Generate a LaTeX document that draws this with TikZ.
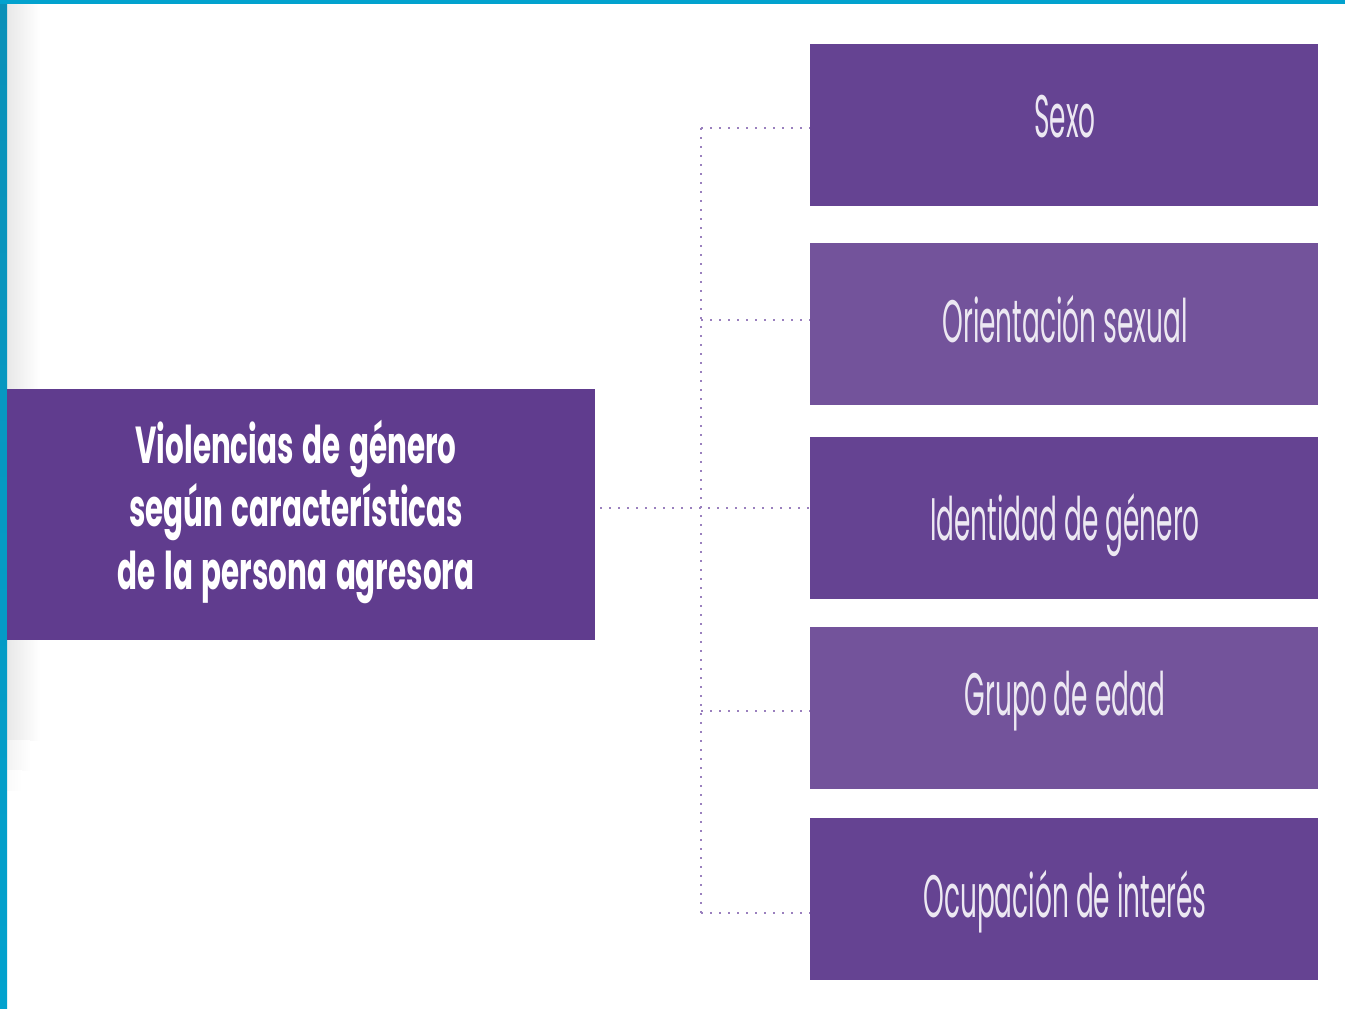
\documentclass[tikz,border=0pt]{standalone}
\usepackage{fontspec}
\newfontfamily\titlefont[FakeStretch=0.565,WordSpace=1.4]{Poppins}
\newfontfamily\boxfont[FakeStretch=0.44]{Poppins}
\definecolor{mainpurple}{HTML}{603C8E}
\definecolor{darkpurple}{HTML}{654392}
\definecolor{lightpurple}{HTML}{73539B}
\definecolor{dotpurple}{HTML}{9A80BE}
\definecolor{bluebar}{HTML}{0A90B8}
\definecolor{bluetop}{HTML}{02A2CE}
\definecolor{boxtext}{HTML}{ECE8F2}
\tikzset{
  catbox/.style={rectangle, inner sep=0pt, minimum width=508pt, minimum height=162pt, anchor=north west},
  cattext/.style={font=\boxfont\fontsize{60}{60}\selectfont, text=boxtext, anchor=base, inner sep=0pt},
  dotline/.style={draw=dotpurple, line width=2pt, dash pattern=on 2pt off 7pt},
}
\begin{document}
\begin{tikzpicture}[x=1pt,y=-1pt]
\useasboundingbox (0,0) rectangle (1345,1009);
\fill[white] (0,0) rectangle (1345,1009);
% left shadow strip
\shade[left color=black!9, right color=white] (7,4) rectangle (40,740);
\shade[left color=black!5, right color=white] (7,740) rectangle (30,770);
\shade[left color=black!2, right color=white] (7,770) rectangle (22,790);
% borders
\shade[top color=bluebar, bottom color=bluetop] (0,0) rectangle (7,1009);
\fill[bluetop] (0,0) rectangle (1345,4);
% main box
\node[rectangle, fill=mainpurple, inner sep=0pt, minimum width=588pt, minimum height=251pt, anchor=north west] (main) at (7,389) {};
\node[font=\titlefont\bfseries\fontsize{52}{63}\selectfont, text=white, align=center, inner sep=0pt] (title) at (296,512) {Violencias de género\\según características\\de la persona agresora};
% category boxes
\node[catbox, fill=darkpurple] (b1) at (810,44) {};
\node[catbox, fill=lightpurple] (b2) at (810,243) {};
\node[catbox, fill=darkpurple] (b3) at (810,437) {};
\node[catbox, fill=lightpurple] (b4) at (810,627) {};
\node[catbox, fill=darkpurple] (b5) at (810,818) {};
\node[cattext] (t1) at (1065,137) {Sexo};
\node[cattext] (t2) at (1065,342) {Orientación sexual};
\node[cattext] (t3) at (1065,540) {Identidad de género};
\node[cattext] (t4) at (1065,715) {Grupo de edad};
\node[cattext] (t5) at (1065,917) {Ocupación de interés};
% connectors
\coordinate (j1) at (701,128);
\coordinate (j2) at (701,320);
\coordinate (j3) at (701,508);
\coordinate (j4) at (701,711);
\coordinate (j5) at (701,913);
\draw[dotline] (j1) -- (j5);
\draw[dotline] (j1) -- (j1 -| b1.west);
\draw[dotline] (j2) -- (j2 -| b2.west);
\draw[dotline] ([xshift=5pt]main.east |- j3) -- (j3 -| b3.west);
\draw[dotline] (j4) -- (j4 -| b4.west);
\draw[dotline] (j5) -- (j5 -| b5.west);
\end{tikzpicture}
\end{document}
